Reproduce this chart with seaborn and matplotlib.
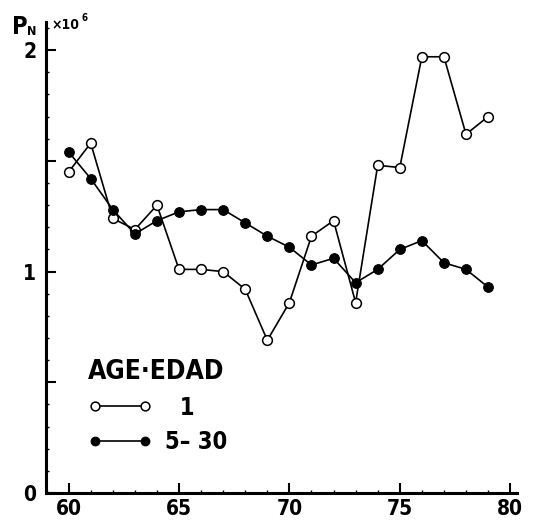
import numpy as np
import pandas as pd
import matplotlib
matplotlib.use('Agg')
import matplotlib.pyplot as plt
from matplotlib import font_manager
from matplotlib.ticker import MultipleLocator, FixedLocator
import seaborn as sns

# ── Data ──────────────────────────────────────────────────────────────────────
years = list(range(1960, 1980))
years_2d = [y - 1900 for y in years]
age_1 = [1.45, 1.58, 1.24, 1.19, 1.30, 1.01, 1.01, 1.00, 0.92, 0.69,
         0.86, 1.16, 1.23, 0.86, 1.48, 1.47, 1.97, 1.97, 1.62, 1.70]
age_5_30 = [1.54, 1.42, 1.28, 1.17, 1.23, 1.27, 1.28, 1.28, 1.22, 1.16,
            1.11, 1.03, 1.06, 0.95, 1.01, 1.10, 1.14, 1.04, 1.01, 0.93]

df = pd.DataFrame({'year': years_2d, 'age1': age_1, 'age530': age_5_30})

sns.set_style('ticks')

# pick a narrow/condensed face if one is installed
narrow = [f for f in font_manager.fontManager.ttflist
          if ('Narrow' in f.name or 'Condensed' in f.name
              or f.stretch in ('condensed', 'semi-condensed'))]
narrow_bold = [f for f in narrow if f.weight in ('bold', 700, 'heavy')]
if narrow_bold:
    FONT = [narrow_bold[0].name, 'DejaVu Sans']
    STRETCH = narrow_bold[0].stretch
elif narrow:
    FONT = [narrow[0].name, 'DejaVu Sans']
    STRETCH = narrow[0].stretch
else:
    FONT = ['DejaVu Sans']
    STRETCH = 'normal'
plt.rcParams['font.family'] = FONT
plt.rcParams['font.stretch'] = STRETCH
plt.rcParams['font.weight'] = 'bold'
plt.rcParams['text.color'] = 'black'
plt.rcParams['xtick.color'] = 'black'
plt.rcParams['ytick.color'] = 'black'

fig = plt.figure(figsize=(5.4, 5.24), dpi=100)
fig.patch.set_facecolor('white')
ax = fig.add_axes([0.085, 0.059, 0.872, 0.899])

sns.lineplot(data=df, x='year', y='age1', ax=ax, color='black', lw=1.2,
             marker='o', markersize=7, markerfacecolor='white',
             markeredgecolor='black', markeredgewidth=1.1, label='  1')
sns.lineplot(data=df, x='year', y='age530', ax=ax, color='black', lw=1.2,
             marker='o', markersize=7, markerfacecolor='black',
             markeredgecolor='black', label='5\u2013 30')

ax.set_xlim(58.97, 80.3)
ax.set_ylim(0, 2.127)
ax.set_xlabel('')
ax.set_ylabel('')

ax.xaxis.set_major_locator(FixedLocator([60, 65, 70, 75, 80]))
ax.xaxis.set_minor_locator(MultipleLocator(1))
ax.yaxis.set_major_locator(FixedLocator([0, 0.5, 1, 1.5, 2]))
ax.set_yticklabels(['0', '', '1', '', '2'])
ax.yaxis.set_minor_locator(MultipleLocator(0.1))
ax.tick_params(axis='both', which='major', direction='in', length=7, width=1.5,
               labelsize=15, color='black', labelcolor='black')
ax.tick_params(axis='both', which='minor', direction='in', length=2.5, width=1,
               color='black')
ax.tick_params(axis='x', pad=4)
ax.tick_params(axis='y', pad=7)
for lab in ax.get_xticklabels() + ax.get_yticklabels():
    lab.set_fontweight('bold')

sns.despine(ax=ax)
for s in ['left', 'bottom']:
    ax.spines[s].set_linewidth(2.2)
    ax.spines[s].set_color('black')

# axis label P_N and scale factor
fig.text(0.022, 0.935, 'P', fontsize=17, fontweight='bold')
fig.text(0.050, 0.933, 'N', fontsize=9, fontweight='bold')
fig.text(0.095, 0.945, '\u00d710', fontsize=10, fontweight='bold')
fig.text(0.150, 0.960, '6', fontsize=7, fontweight='bold')

leg = ax.legend(title='AGE\u00b7EDAD', loc='upper left',
                bbox_to_anchor=(0.045, 0.33), frameon=False, numpoints=2,
                handlelength=2.7, handletextpad=0.55, labelspacing=0.45,
                fontsize=17, title_fontsize=19, markerscale=0.9)
leg._legend_box.align = 'left'
leg.get_title().set_fontweight('bold')
for t in leg.get_texts():
    t.set_fontweight('bold')

plt.savefig('out.png', dpi=100, facecolor='white')
